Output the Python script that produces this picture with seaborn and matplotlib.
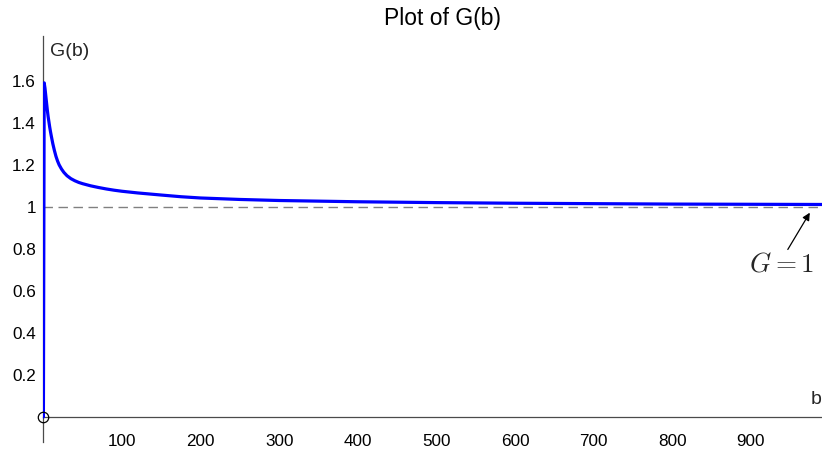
import matplotlib
matplotlib.use("Agg")
import matplotlib.pyplot as plt
import seaborn as sns
import pandas as pd

# ---- data ----
b_values = [0, 1, 2, 3, 4, 5, 6, 7, 8, 9, 10, 12, 14, 16, 18, 20, 23, 26, 30,
            35, 40, 45, 50, 60, 70, 80, 90, 100, 120, 150, 175, 200, 250, 300,
            350, 400, 500, 600, 700, 800, 900, 1000]
g_values = [0, 1.59, 1.565, 1.53, 1.495, 1.46, 1.43, 1.405, 1.38, 1.358, 1.338,
            1.30, 1.268, 1.24, 1.218, 1.20, 1.18, 1.164, 1.148, 1.134, 1.124,
            1.116, 1.110, 1.100, 1.092, 1.085, 1.079, 1.074, 1.066, 1.056, 1.048,
            1.042, 1.035, 1.030, 1.027, 1.024, 1.020, 1.017, 1.015, 1.013, 1.012,
            1.011]
x_ticks = [100, 200, 300, 400, 500, 600, 700, 800, 900]
x_tick_labels = ["100", "200", "300", "400", "500", "600", "700", "800", "900"]
y_ticks = [0.2, 0.4, 0.6, 0.8, 1.0, 1.2, 1.4, 1.6]
y_tick_labels = ["0.2", "0.4", "0.6", "0.8", "1", "1.2", "1.4", "1.6"]
ref_level = 1.0
title_text = "Plot of G(b)"
annot_text = r"$G = 1$"

sns.set_style("white")
plt.rcParams["font.family"] = ["Liberation Sans", "DejaVu Sans"]
plt.rcParams["mathtext.fontset"] = "cm"

W, H = 822, 453
fig = plt.figure(figsize=(W / 100, H / 100), dpi=100)
left = 43.4 / W
bottom = (H - 441.7) / H
top = (H - 36) / H
ax = fig.add_axes([left, bottom, 1.0 - left, top - bottom])

df = pd.DataFrame({"b": b_values, "G": g_values})
ax.axhline(ref_level, color="#808080", lw=1.0, dashes=(6.8, 4.0), zorder=1)
sns.lineplot(data=df, x="b", y="G", ax=ax, color=(0, 0, 1), lw=2.3, zorder=3)
ax.plot([0], [0], marker="o", ms=7.5, mfc="none", mec="black", mew=0.9,
        clip_on=False, zorder=5)

ax.set_xlim(0, 990.5)
ax.set_ylim(-0.118, 1.813)

axis_col = "#4a4a4a"
for s in ["top", "right"]:
    ax.spines[s].set_visible(False)
ax.spines["bottom"].set_position(("data", 0))
ax.spines["left"].set_position(("data", 0))
for s in ["bottom", "left"]:
    ax.spines[s].set_color(axis_col)
    ax.spines[s].set_linewidth(0.9)

ax.set_xticks(x_ticks)
ax.set_xticklabels(x_tick_labels)
ax.set_yticks(y_ticks)
ax.set_yticklabels(y_tick_labels)
ax.tick_params(axis="both", direction="in", length=4, width=0.8, color=axis_col,
               labelsize=12.3, labelcolor="black")
ax.tick_params(axis="x", pad=12.5)
ax.tick_params(axis="y", pad=5.5)
ax.set_xlabel("")
ax.set_ylabel("")

fig.text(442 / W, 1 - 19 / H, title_text, ha="center", va="center",
         fontsize=16.5, color="black")
fig.text(50 / W, 1 - 52 / H, "G(b)", ha="left", va="center", fontsize=14)
fig.text(811 / W, 1 - 400 / H, "b", ha="left", va="center", fontsize=14)

ax.text(939, 0.727, annot_text, ha="center", va="center", fontsize=19.5)
ax.annotate("", xy=(975, 0.972), xytext=(947, 0.797),
            arrowprops=dict(arrowstyle="-|>", color="black", lw=0.9,
                            mutation_scale=11, shrinkA=0, shrinkB=0))

fig.savefig("out.png", dpi=100)
